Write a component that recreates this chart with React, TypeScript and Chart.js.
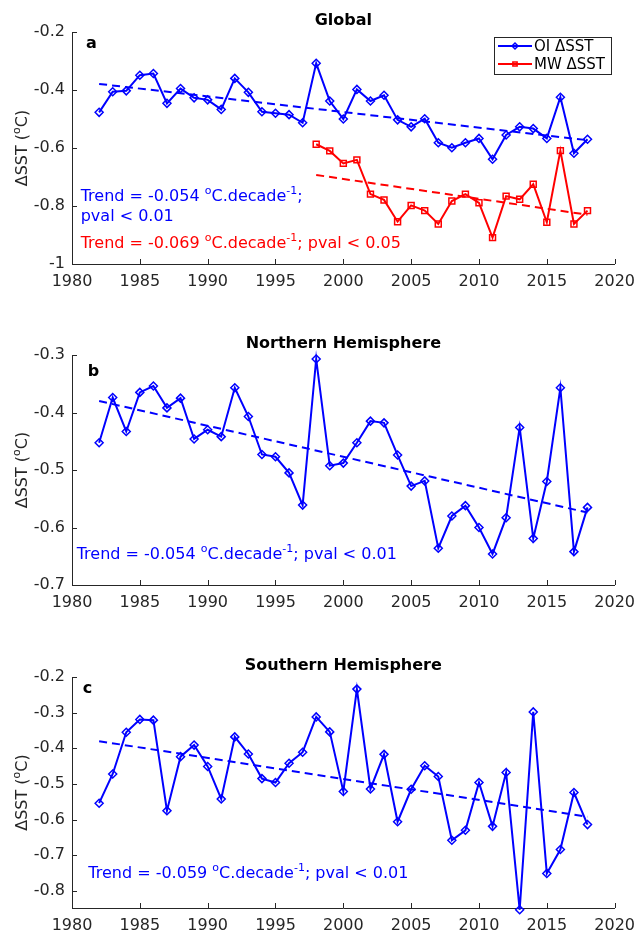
import React, { useEffect, useRef } from "react";
import { Chart, registerables } from "chart.js";
Chart.register(...registerables);

const FONT = '"DejaVu Sans"';
const AX = "#262626";
const BLUE = "#0000ff";
const RED = "#ff0000";

const years = [1982, 1983, 1984, 1985, 1986, 1987, 1988, 1989, 1990, 1991, 1992, 1993, 1994, 1995, 1996, 1997, 1998, 1999, 2000, 2001, 2002, 2003, 2004, 2005, 2006, 2007, 2008, 2009, 2010, 2011, 2012, 2013, 2014, 2015, 2016, 2017, 2018];
const mwYears = [1998, 1999, 2000, 2001, 2002, 2003, 2004, 2005, 2006, 2007, 2008, 2009, 2010, 2011, 2012, 2013, 2014, 2015, 2016, 2017, 2018];

const globalOI = [-0.477, -0.406, -0.403, -0.349, -0.343, -0.446, -0.395, -0.427, -0.434, -0.467, -0.360, -0.408, -0.475, -0.480, -0.485, -0.513, -0.308, -0.438, -0.500, -0.398, -0.438, -0.418, -0.503, -0.527, -0.499, -0.582, -0.599, -0.582, -0.567, -0.639, -0.555, -0.527, -0.533, -0.567, -0.425, -0.618, -0.570];
const globalMW = [-0.587, -0.610, -0.653, -0.641, -0.759, -0.779, -0.854, -0.798, -0.816, -0.862, -0.783, -0.759, -0.789, -0.909, -0.766, -0.777, -0.725, -0.856, -0.609, -0.862, -0.816];
const northOI = [-0.4525, -0.374, -0.433, -0.365, -0.354, -0.392, -0.375, -0.446, -0.430, -0.442, -0.357, -0.407, -0.473, -0.477, -0.505, -0.561, -0.307, -0.4925, -0.488, -0.4525, -0.415, -0.418, -0.474, -0.528, -0.519, -0.636, -0.580, -0.562, -0.600, -0.646, -0.583, -0.426, -0.619, -0.520, -0.357, -0.642, -0.565];
const southOI = [-0.554, -0.472, -0.355, -0.319, -0.321, -0.575, -0.4235, -0.391, -0.451, -0.542, -0.368, -0.416, -0.485, -0.496, -0.442, -0.411, -0.312, -0.354, -0.521, -0.234, -0.514, -0.417, -0.606, -0.515, -0.449, -0.479, -0.658, -0.630, -0.496, -0.619, -0.468, -0.853, -0.298, -0.751, -0.684, -0.524, -0.614];

const oiTrendYears = [1982, 2018];
const mwTrendYears = [1998, 2018];
const globalOITrend = [-0.379, -0.573];
const globalMWTrend = [-0.693, -0.830];
const northTrend = [-0.380, -0.574];
const southTrend = [-0.380, -0.592];

const xTicks = [1980, 1985, 1990, 1995, 2000, 2005, 2010, 2015, 2020];
const globalYTicks = [-1, -0.8, -0.6, -0.4, -0.2];
const northYTicks = [-0.7, -0.6, -0.5, -0.4, -0.3];
const southYTicks = [-0.8, -0.7, -0.6, -0.5, -0.4, -0.3, -0.2];

type Part = { t: string; sup?: boolean };
const sup = (t: string): Part => ({ t, sup: true });
const txt = (t: string): Part => ({ t });

function drawParts(ctx: CanvasRenderingContext2D, parts: Part[], x: number, y: number, size: number, align: "left" | "center", weight = "normal") {
  const widths: number[] = [];
  let total = 0;
  for (const p of parts) {
    ctx.font = `${weight} ${p.sup ? Math.round(size * 0.7) : size}px ${FONT}`;
    const w = ctx.measureText(p.t).width;
    widths.push(w);
    total += w;
  }
  let cx = align === "center" ? x - total / 2 : x;
  ctx.textAlign = "left";
  ctx.textBaseline = "alphabetic";
  parts.forEach((p, i) => {
    ctx.font = `${weight} ${p.sup ? Math.round(size * 0.7) : size}px ${FONT}`;
    ctx.fillText(p.t, cx, p.sup ? y - size * 0.42 : y);
    cx += widths[i];
  });
}

function drawMarker(ctx: CanvasRenderingContext2D, style: string, x: number, y: number, r: number, color: string, lw: number) {
  ctx.save();
  ctx.strokeStyle = color;
  ctx.lineWidth = lw;
  ctx.beginPath();
  if (style === "rectRot") {
    ctx.moveTo(x, y - r);
    ctx.lineTo(x + r, y);
    ctx.lineTo(x, y + r);
    ctx.lineTo(x - r, y);
    ctx.closePath();
  } else {
    const s = r * Math.SQRT1_2;
    ctx.rect(x - s, y - s, 2 * s, 2 * s);
  }
  ctx.stroke();
  ctx.restore();
}

type Series = { label: string; xs: number[]; ys: number[]; color: string; marker: string };
type Trend = { xs: number[]; ys: number[]; color: string };
type Note = { dx: number; dy: number; color: string; parts: Part[] };

type Panel = {
  title: string;
  letter: string;
  letterDx: number;
  letterDy: number;
  canvasTop: number;
  height: number;
  areaTop: number;
  areaBottom: number;
  yMin: number;
  yMax: number;
  yTicks: number[];
  series: Series[];
  trends: Trend[];
  notes: Note[];
  legend: boolean;
};

const trendParts = (v: string, tail: string): Part[] => [txt(`Trend = ${v} `), sup("o"), txt("C.decade"), sup("-1"), txt(tail)];

const panels: Panel[] = [
  {
    title: "Global",
    letter: "a",
    letterDx: 14,
    letterDy: 15.7,
    canvasTop: 0,
    height: 305,
    areaTop: 32,
    areaBottom: 264,
    yMin: -1,
    yMax: -0.2,
    yTicks: globalYTicks,
    series: [
      { label: "OI ΔSST", xs: years, ys: globalOI, color: BLUE, marker: "rectRot" },
      { label: "MW ΔSST", xs: mwYears, ys: globalMW, color: RED, marker: "rect" },
    ],
    trends: [
      { xs: oiTrendYears, ys: globalOITrend, color: BLUE },
      { xs: mwTrendYears, ys: globalMWTrend, color: RED },
    ],
    notes: [
      { dx: 8.7, dy: 169, color: BLUE, parts: trendParts("-0.054", ";") },
      { dx: 8.7, dy: 189, color: BLUE, parts: [txt("pval < 0.01")] },
      { dx: 8.7, dy: 216, color: RED, parts: trendParts("-0.069", "; pval < 0.05") },
    ],
    legend: true,
  },
  {
    title: "Northern Hemisphere",
    letter: "b",
    letterDx: 15.7,
    letterDy: 20.7,
    canvasTop: 305,
    height: 310,
    areaTop: 355,
    areaBottom: 585,
    yMin: -0.7,
    yMax: -0.3,
    yTicks: northYTicks,
    series: [{ label: "OI ΔSST", xs: years, ys: northOI, color: BLUE, marker: "rectRot" }],
    trends: [{ xs: oiTrendYears, ys: northTrend, color: BLUE }],
    notes: [{ dx: 4.7, dy: 203.7, color: BLUE, parts: trendParts("-0.054", "; pval < 0.01") }],
    legend: false,
  },
  {
    title: "Southern Hemisphere",
    letter: "c",
    letterDx: 10.7,
    letterDy: 16,
    canvasTop: 615,
    height: 319,
    areaTop: 677,
    areaBottom: 908,
    yMin: -0.848,
    yMax: -0.2,
    yTicks: southYTicks,
    series: [{ label: "OI ΔSST", xs: years, ys: southOI, color: BLUE, marker: "rectRot" }],
    trends: [{ xs: oiTrendYears, ys: southTrend, color: BLUE }],
    notes: [{ dx: 16.3, dy: 200.6, color: BLUE, parts: trendParts("-0.059", "; pval < 0.01") }],
    legend: false,
  },
];

const AREA_LEFT = 72;
const AREA_RIGHT = 620;
const WIDTH = 643;

function makeDecor(p: Panel) {
  return {
    id: "decor" + p.letter,
    afterDraw(chart: any) {
      const ctx: CanvasRenderingContext2D = chart.ctx;
      const a = chart.chartArea;
      const xs = chart.scales.x;
      const ys = chart.scales.y;
      ctx.save();
      // inward ticks
      ctx.strokeStyle = AX;
      ctx.lineWidth = 1;
      ctx.beginPath();
      for (const t of xs.ticks) {
        const px = Math.round(xs.getPixelForValue(t.value)) + 0.5;
        ctx.moveTo(px, a.bottom);
        ctx.lineTo(px, a.bottom - 5);
      }
      for (const t of ys.ticks) {
        const py = Math.round(ys.getPixelForValue(t.value)) + 0.5;
        ctx.moveTo(a.left, py);
        ctx.lineTo(a.left + 5, py);
      }
      ctx.stroke();

      // title
      ctx.fillStyle = "#000";
      drawParts(ctx, [txt(p.title)], (a.left + a.right) / 2, a.top - 7, 16, "center", "bold");
      // panel letter
      drawParts(ctx, [txt(p.letter)], a.left + p.letterDx, a.top + p.letterDy, 16, "left", "bold");

      // y-axis title
      ctx.save();
      ctx.translate(27, (a.top + a.bottom) / 2);
      ctx.rotate(-Math.PI / 2);
      ctx.fillStyle = AX;
      drawParts(ctx, [txt("ΔSST ("), sup("o"), txt("C)")], 0, 0, 16, "center");
      ctx.restore();

      // notes
      for (const n of p.notes) {
        ctx.fillStyle = n.color;
        drawParts(ctx, n.parts, a.left + n.dx, a.top + n.dy, 16, "left");
      }

      // legend
      if (p.legend) {
        const bx = 494, by = 37, bw = 117, bh = 37;
        ctx.fillStyle = "#fff";
        ctx.fillRect(bx, by, bw, bh);
        ctx.strokeStyle = AX;
        ctx.lineWidth = 1;
        ctx.strokeRect(bx + 0.5, by + 0.5, bw, bh);
        p.series.forEach((s, i) => {
          const ly = by + 9 + i * 18;
          ctx.strokeStyle = s.color;
          ctx.lineWidth = 2;
          ctx.beginPath();
          ctx.moveTo(bx + 4, ly);
          ctx.lineTo(bx + 38, ly);
          ctx.stroke();
          drawMarker(ctx, s.marker, bx + 21, ly, 3, s.color, 1.5);
          ctx.fillStyle = "#000";
          ctx.font = `15px ${FONT}`;
          ctx.textAlign = "left";
          ctx.textBaseline = "middle";
          ctx.fillText(s.label, bx + 40, ly + 1);
        });
      }
      ctx.restore();
    },
  };
}

function buildChart(canvas: HTMLCanvasElement, p: Panel) {
  const datasets: any[] = [];
  p.series.forEach((s) => {
    datasets.push({
      label: s.label,
      data: s.xs.map((x, i) => ({ x, y: s.ys[i] })),
      borderColor: s.color,
      borderWidth: 2,
      pointStyle: s.marker,
      pointRadius: s.marker === "rectRot" ? 4 : 4.2,
      pointBorderWidth: 1.5,
      pointBorderColor: s.color,
      pointBackgroundColor: "rgba(0,0,0,0)",
      tension: 0,
      fill: false,
      clip: false,
    });
  });
  p.trends.forEach((t) => {
    datasets.push({
      label: "trend",
      data: t.xs.map((x, i) => ({ x, y: t.ys[i] })),
      borderColor: t.color,
      borderWidth: 2,
      borderDash: [8, 5],
      pointRadius: 0,
      tension: 0,
      fill: false,
    });
  });

  return new Chart(canvas, {
    type: "line",
    data: { datasets },
    options: {
      animation: false,
      responsive: false,
      events: [],
      layout: { padding: { top: p.areaTop - p.canvasTop, right: WIDTH - AREA_RIGHT, left: 0, bottom: 0 } },
      plugins: { legend: { display: false }, tooltip: { enabled: false }, title: { display: false } },
      scales: {
        x: {
          type: "linear",
          min: 1980,
          max: 2020,
          grid: { display: false, drawTicks: false },
          border: { display: true, color: AX, width: 1 },
          afterBuildTicks: (s: any) => {
            s.ticks = xTicks.map((v) => ({ value: v }));
          },
          afterFit: (s: any) => {
            s.height = p.canvasTop + p.height - p.areaBottom;
          },
          ticks: {
            autoSkip: false,
            maxRotation: 0,
            color: AX,
            padding: 8,
            font: { size: 16, family: FONT },
            callback: (v: any) => String(v),
          },
        },
        y: {
          type: "linear",
          min: p.yMin,
          max: p.yMax,
          grid: { display: false, drawTicks: false },
          border: { display: true, color: AX, width: 1 },
          afterBuildTicks: (s: any) => {
            s.ticks = p.yTicks.map((v) => ({ value: v }));
          },
          afterFit: (s: any) => {
            s.width = AREA_LEFT;
          },
          ticks: {
            color: AX,
            padding: 7,
            font: { size: 16, family: FONT },
            callback: (v: any) => String(Number(Number(v).toFixed(2))),
          },
        },
      },
    } as any,
    plugins: [makeDecor(p)],
  });
}

export default function App() {
  const refs = [useRef<HTMLCanvasElement>(null), useRef<HTMLCanvasElement>(null), useRef<HTMLCanvasElement>(null)];
  useEffect(() => {
    const charts = panels.map((p, i) => buildChart(refs[i].current as HTMLCanvasElement, p));
    return () => charts.forEach((c) => c.destroy());
  }, []);
  return (
    <div style={{ position: "absolute", left: 0, top: 0, width: WIDTH, height: 934, background: "#fff" }}>
      {panels.map((p, i) => (
        <canvas
          key={p.letter}
          ref={refs[i]}
          width={WIDTH}
          height={p.height}
          style={{ position: "absolute", left: 0, top: p.canvasTop, width: WIDTH, height: p.height, display: "block" }}
        />
      ))}
    </div>
  );
}
